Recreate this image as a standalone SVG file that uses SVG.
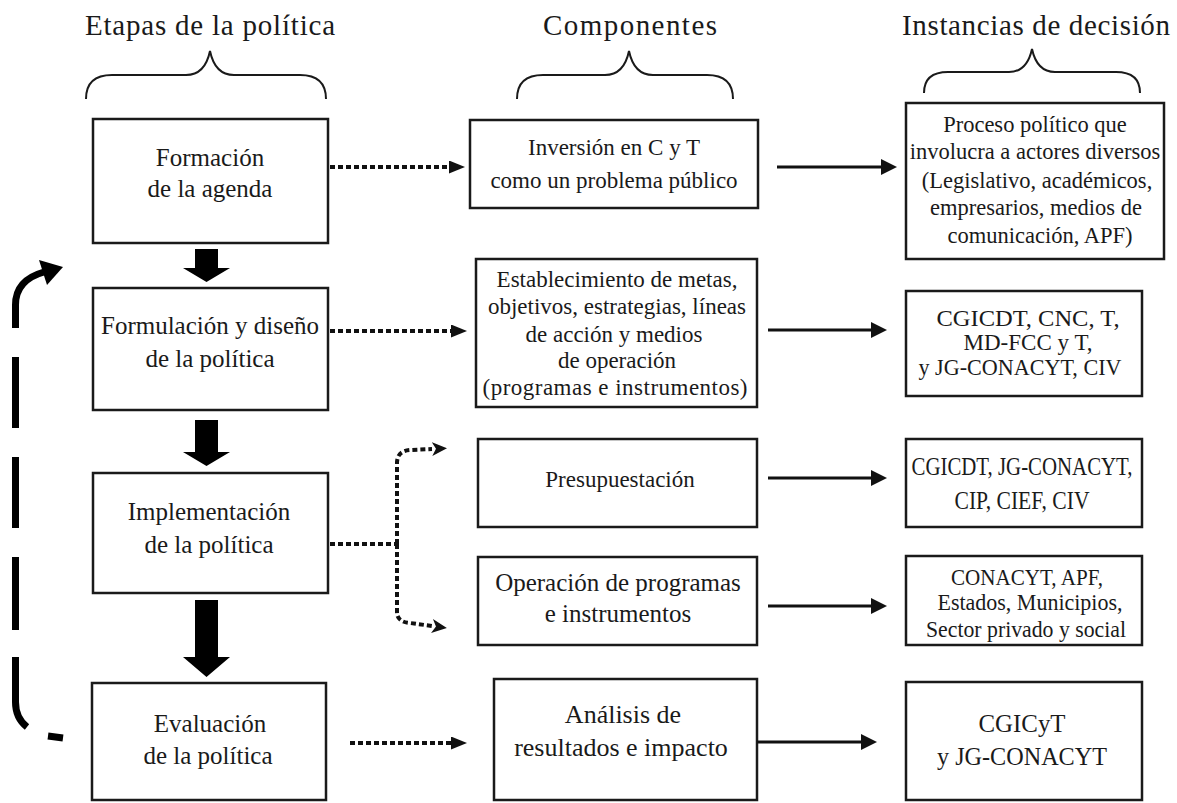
<svg xmlns="http://www.w3.org/2000/svg" width="1177" height="803" viewBox="0 0 1177 803">
<style>
.bg{fill:#fff}
.box{fill:#fff;stroke:#1a1a1a;stroke-width:2.5}
.t{fill:#1a1a1a;text-anchor:middle}
.h{font-size:29px}
.l{font-size:25px}
.brace{fill:none;stroke:#1a1a1a;stroke-width:2}
.solid{stroke:#111;stroke-width:3;fill:none}
.dot{stroke:#111;stroke-width:4;stroke-dasharray:5 3;fill:none}
.dash{stroke:#000;stroke-width:7;fill:none}
.big{fill:#000}
</style>
<defs>
<marker id="ah" markerUnits="userSpaceOnUse" markerWidth="17" markerHeight="17" refX="0" refY="8" orient="auto">
<path d="M0,0 L16,8 L0,16 z" fill="#111"/>
</marker>
<marker id="dh" markerUnits="userSpaceOnUse" markerWidth="17" markerHeight="14" refX="0" refY="6.5" orient="auto">
<path d="M0,0 L16,6.5 L0,13 z" fill="#111"/>
</marker>
<marker id="ch" markerUnits="userSpaceOnUse" markerWidth="16" markerHeight="15" refX="0" refY="7" orient="auto">
<path d="M0,0 L15,7 L0,14 L4,7 z" fill="#111"/>
</marker>
</defs>
<rect class="bg" x="0" y="0" width="1177" height="803"/>
<g font-family="Liberation Serif, DejaVu Serif, serif">
<g id="headers">
<text class="t h" x="210" y="35" textLength="250">Etapas de la política</text>
<text class="t h" x="630" y="35" textLength="174">Componentes</text>
<text class="t h" x="1036" y="35" textLength="268">Instancias de decisión</text>
<path class="brace" d="M86 99 Q86 75 112 75 L186 75 Q205 75 210 51 Q215 75 234 75 L300 75 Q326 75 326 99"/>
<path class="brace" d="M517 99 Q517 75 543 75 L605 75 Q624 75 629 51 Q634 75 653 75 L707 75 Q733 75 733 99"/>
<path class="brace" d="M924 93 Q924 72 948 72 L1009 72 Q1027 72 1032 49 Q1037 72 1055 72 L1116 72 Q1140 72 1140 93"/>
</g>

<g id="stage-agenda">
<rect class="box" x="93" y="119" width="235" height="124"/>
<text class="t l" x="210" y="166">Formación</text>
<text class="t l" x="210" y="197">de la agenda</text>
</g>
<g id="stage-formulacion">
<rect class="box" x="93" y="288" width="235" height="122"/>
<text class="t l" x="210" y="334">Formulación y diseño</text>
<text class="t l" x="210" y="367">de la política</text>
</g>
<g id="stage-implementacion">
<rect class="box" x="93" y="473" width="235" height="120"/>
<text class="t l" x="209" y="520">Implementación</text>
<text class="t l" x="209" y="553">de la política</text>
</g>
<g id="stage-evaluacion">
<rect class="box" x="92" y="683" width="234" height="117"/>
<text class="t l" x="210" y="732">Evaluación</text>
<text class="t l" x="208" y="764">de la política</text>
</g>

<g id="comp-inversion">
<rect class="box" x="470" y="120" width="288" height="88"/>
<text class="t" font-size="23" x="614" y="155">Inversión en C y T</text>
<text class="t" font-size="23" x="614" y="188">como un problema público</text>
</g>
<g id="comp-metas">
<rect class="box" x="476" y="259" width="281" height="148"/>
<text class="t" font-size="23" x="617" y="287">Establecimiento de metas,</text>
<text class="t" font-size="23" x="617" y="314">objetivos, estrategias, líneas</text>
<text class="t" font-size="23" x="614" y="342">de acción y medios</text>
<text class="t" font-size="23" x="617" y="368">de operación</text>
<text class="t" font-size="23" x="615" y="395" textLength="265">(programas e instrumentos)</text>
</g>
<g id="comp-presupuestacion">
<rect class="box" x="478" y="439" width="279" height="88"/>
<text class="t" font-size="23" x="620" y="487">Presupuestación</text>
</g>
<g id="comp-operacion">
<rect class="box" x="478" y="557" width="279" height="88"/>
<text class="t" font-size="25" x="618" y="591">Operación de programas</text>
<text class="t" font-size="25" x="618" y="622">e instrumentos</text>
</g>
<g id="comp-analisis">
<rect class="box" x="494" y="679" width="263" height="121"/>
<text class="t" font-size="26" x="623" y="723">Análisis de</text>
<text class="t" font-size="26" x="621" y="756">resultados e impacto</text>
</g>

<g id="inst-proceso">
<rect class="box" x="906" y="103" width="258" height="156"/>
<text class="t" font-size="22.5" x="1035" y="132">Proceso político que</text>
<text class="t" font-size="22.5" x="1035" y="159">involucra a actores diversos</text>
<text class="t" font-size="22.5" x="1037" y="188">(Legislativo, académicos,</text>
<text class="t" font-size="22.5" x="1036" y="215">empresarios, medios de</text>
<text class="t" font-size="22.5" x="1040" y="243">comunicación, APF)</text>
</g>
<g id="inst-cgicdt-cnc">
<rect class="box" x="906" y="291" width="236" height="105"/>
<text class="t" font-size="24" x="1028" y="326" textLength="183" lengthAdjust="spacingAndGlyphs">CGICDT, CNC, T,</text>
<text class="t" font-size="24" x="1028" y="350" textLength="129" lengthAdjust="spacingAndGlyphs">MD-FCC y T,</text>
<text class="t" font-size="24" x="1020" y="375" textLength="203" lengthAdjust="spacingAndGlyphs">y JG-CONACYT, CIV</text>
</g>
<g id="inst-cgicdt-jg">
<rect class="box" x="906" y="439" width="236" height="88"/>
<text class="t" font-size="25" x="1022" y="475" textLength="221" lengthAdjust="spacingAndGlyphs">CGICDT, JG-CONACYT,</text>
<text class="t" font-size="25" x="1022" y="509" textLength="135" lengthAdjust="spacingAndGlyphs">CIP, CIEF, CIV</text>
</g>
<g id="inst-conacyt">
<rect class="box" x="906" y="556" width="236" height="89"/>
<text class="t" font-size="23" x="1027" y="585" textLength="152" lengthAdjust="spacingAndGlyphs">CONACYT, APF,</text>
<text class="t" font-size="23" x="1030" y="610" textLength="185" lengthAdjust="spacingAndGlyphs">Estados, Municipios,</text>
<text class="t" font-size="23" x="1026" y="637" textLength="200" lengthAdjust="spacingAndGlyphs">Sector privado y social</text>
</g>
<g id="inst-cgicyt">
<rect class="box" x="906" y="682" width="236" height="118"/>
<text class="t" font-size="25" x="1022" y="732" textLength="87" lengthAdjust="spacingAndGlyphs">CGICyT</text>
<text class="t" font-size="25" x="1022" y="765" textLength="170" lengthAdjust="spacingAndGlyphs">y JG-CONACYT</text>
</g>
</g>

<g id="connectors">
<path class="big" d="M195 249 H218 V268 H230 L206.5 282 L183 268 H195 Z"/>
<path class="big" d="M195 420 H218 V452 H230 L206.5 466 L183 452 H195 Z"/>
<path class="big" d="M195 600 H218 V657 H230 L206.5 677 L183 657 H195 Z"/>

<line class="dot" x1="330" y1="167" x2="449" y2="167" marker-end="url(#dh)"/>
<line class="dot" x1="330" y1="331" x2="451" y2="331" marker-end="url(#dh)"/>
<line class="dot" x1="350" y1="743" x2="451" y2="743" marker-end="url(#dh)"/>
<path class="dot" d="M330 544 H397"/>
<path class="dot" d="M397 544 V463 Q397 451 410 450 L432 449" marker-end="url(#ch)"/>
<path class="dot" d="M397 544 V612 Q397 622 410 623 L432 626" marker-end="url(#ch)"/>

<line class="solid" x1="777" y1="167" x2="881" y2="167" marker-end="url(#ah)"/>
<line class="solid" x1="768" y1="330" x2="871" y2="330" marker-end="url(#ah)"/>
<line class="solid" x1="768" y1="478" x2="871" y2="478" marker-end="url(#ah)"/>
<line class="solid" x1="768" y1="606" x2="871" y2="606" marker-end="url(#ah)"/>
<line class="solid" x1="757" y1="742" x2="861" y2="742" marker-end="url(#ah)"/>

<path class="dash" d="M15.5 328 L15.5 305 Q15.5 280 44 272"/>
<path class="big" d="M63 267 L39 260 L47 285 Z"/>
<path class="dash" d="M15.5 357 V428"/>
<path class="dash" d="M15.5 457 V528"/>
<path class="dash" d="M15.5 557 V630"/>
<path class="dash" d="M15.5 657 V702 Q15.5 718 27 727"/>
<path class="dash" stroke-width="8" d="M48 736 L63 738"/>
</g>
</svg>
